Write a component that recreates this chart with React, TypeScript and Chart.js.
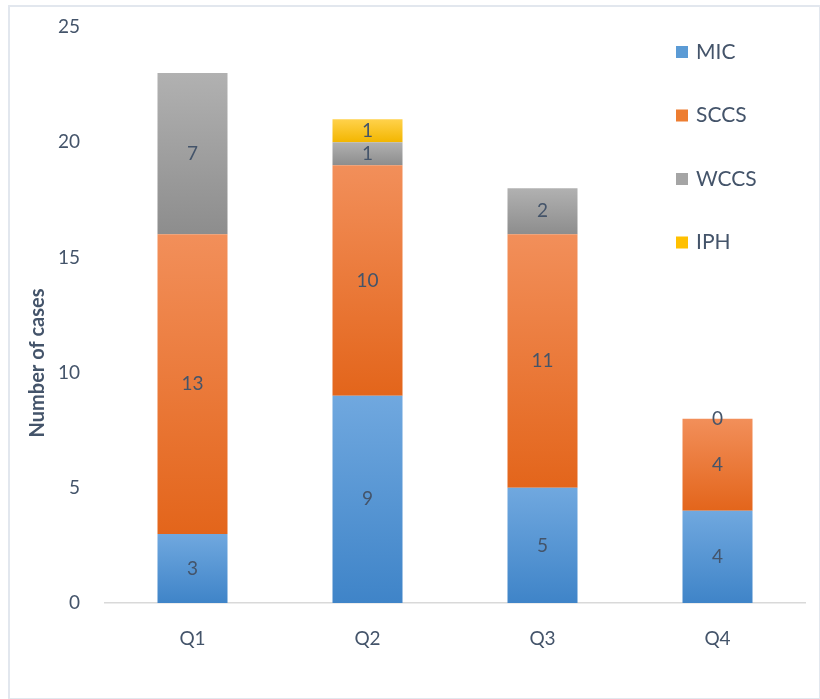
import React, { useEffect, useRef } from "react";
import { Chart, registerables } from "chart.js";

Chart.register(...registerables);

const categories = ["Q1", "Q2", "Q3", "Q4"];
const seriesNames = ["MIC", "SCCS", "WCCS", "IPH"];
const micValues: (number | null)[] = [3, 9, 5, 4];
const sccsValues: (number | null)[] = [13, 10, 11, 4];
const wccsValues: (number | null)[] = [7, 1, 2, 0];
const iphValues: (number | null)[] = [null, 1, null, null];
const yTicks = [0, 5, 10, 15, 20, 25];

const allSeries = [micValues, sccsValues, wccsValues, iphValues];
const solidColors = ["#5B9BD5", "#ED7D31", "#A5A5A5", "#FFC000"];
const lightColors = ["#70A8DF", "#F28F5A", "#B1B1B1", "#FFD24C"];
const darkColors = ["#3F84C8", "#E3651B", "#8D8D8D", "#F3B600"];

const TEXT = "#44546A";
const FONT = "Lato, 'Open Sans', sans-serif";

function gradientFor(si: number) {
  return (ctx: any) => {
    if (ctx.type !== "data") return solidColors[si];
    const chart = ctx.chart;
    const y = chart.scales && chart.scales.y;
    if (!y || !chart.chartArea) return solidColors[si];
    const i = ctx.dataIndex;
    let start = 0;
    for (let k = 0; k < si; k++) start += allSeries[k][i] ?? 0;
    const end = start + (allSeries[si][i] ?? 0);
    const y0 = y.getPixelForValue(start);
    const y1 = y.getPixelForValue(end);
    if (!isFinite(y0) || !isFinite(y1) || y0 === y1) return solidColors[si];
    const g = chart.ctx.createLinearGradient(0, y1, 0, y0);
    g.addColorStop(0, lightColors[si]);
    g.addColorStop(1, darkColors[si]);
    return g;
  };
}

const labelPlugin = {
  id: "segLabels",
  afterDatasetsDraw(chart: any) {
    const ctx = chart.ctx;
    ctx.save();
    ctx.font = `19px ${FONT}`;
    ctx.fillStyle = TEXT;
    ctx.textAlign = "center";
    ctx.textBaseline = "middle";
    chart.data.datasets.forEach((ds: any, di: number) => {
      const meta = chart.getDatasetMeta(di);
      meta.data.forEach((el: any, i: number) => {
        const v = ds.data[i];
        if (v === null || v === undefined) return;
        const cy = (el.y + el.base) / 2;
        ctx.fillText(String(v), el.x, cy);
      });
    });
    ctx.restore();
  },
};

const legendPlugin = {
  id: "sideLegend",
  afterDraw(chart: any) {
    const ctx = chart.ctx;
    const area = chart.chartArea;
    ctx.save();
    ctx.font = `21px ${FONT}`;
    ctx.textAlign = "left";
    ctx.textBaseline = "middle";
    const x = area.right - 129;
    chart.data.datasets.forEach((ds: any, di: number) => {
      const cy = area.top + 25 + di * 63.5;
      ctx.fillStyle = ds.legendColor;
      ctx.fillRect(x, cy - 6, 12, 12);
      ctx.fillStyle = TEXT;
      ctx.fillText(ds.label, x + 20, cy);
    });
    ctx.restore();
  },
};

const yTitlePlugin = {
  id: "yTitle",
  afterDraw(chart: any) {
    const ctx = chart.ctx;
    const area = chart.chartArea;
    ctx.save();
    ctx.font = `bold 20px ${FONT}`;
    ctx.fillStyle = TEXT;
    ctx.textAlign = "center";
    ctx.textBaseline = "middle";
    ctx.translate(38, area.top + 336);
    ctx.rotate(-Math.PI / 2);
    ctx.fillText("Number of cases", 0, 0);
    ctx.restore();
  },
};

export default function App() {
  const ref = useRef<HTMLCanvasElement | null>(null);
  useEffect(() => {
    if (!ref.current) return;
    const chart = new Chart(ref.current, {
      type: "bar",
      data: {
        labels: categories,
        datasets: allSeries.map((vals, si) => ({
          label: seriesNames[si],
          data: vals,
          backgroundColor: gradientFor(si),
          borderWidth: 0,
          legendColor: solidColors[si],
          barPercentage: 0.4,
          categoryPercentage: 1.0,
        })) as any,
      },
      options: {
        animation: false,
        responsive: false,
        layout: { padding: { left: 0, right: 15, top: 27, bottom: 0 } },
        plugins: {
          legend: { display: false },
          tooltip: { enabled: false },
        },
        scales: {
          x: {
            stacked: true,
            grid: { display: false, drawTicks: false },
            border: { display: true, color: "#D9D9D9", width: 1.5 },
            ticks: { color: TEXT, font: { family: FONT, size: 19 }, padding: 24 },
            afterFit: (s: any) => {
              s.height = 96;
            },
          },
          y: {
            stacked: true,
            min: 0,
            max: 25,
            afterBuildTicks: (s: any) => {
              s.ticks = yTicks.map((v) => ({ value: v }));
            },
            grid: { display: false, drawTicks: true, tickLength: 25 },
            border: { display: false },
            ticks: { color: TEXT, font: { family: FONT, size: 19 }, padding: 0 },
            afterFit: (s: any) => {
              s.width = 105;
            },
          },
        },
      },
      plugins: [labelPlugin, legendPlugin, yTitlePlugin],
    });
    return () => chart.destroy();
  }, []);

  return (
    <div style={{ position: "absolute", left: 0, top: 0, width: 820, height: 699, background: "#fff" }}>
      <canvas ref={ref} width={820} height={699} style={{ position: "absolute", left: 0, top: 0 }} />
      <div
        style={{
          position: "absolute",
          left: 8,
          top: 5,
          width: 809,
          height: 691,
          border: "2px solid #E2E7EE",
          pointerEvents: "none",
        }}
      />
    </div>
  );
}
